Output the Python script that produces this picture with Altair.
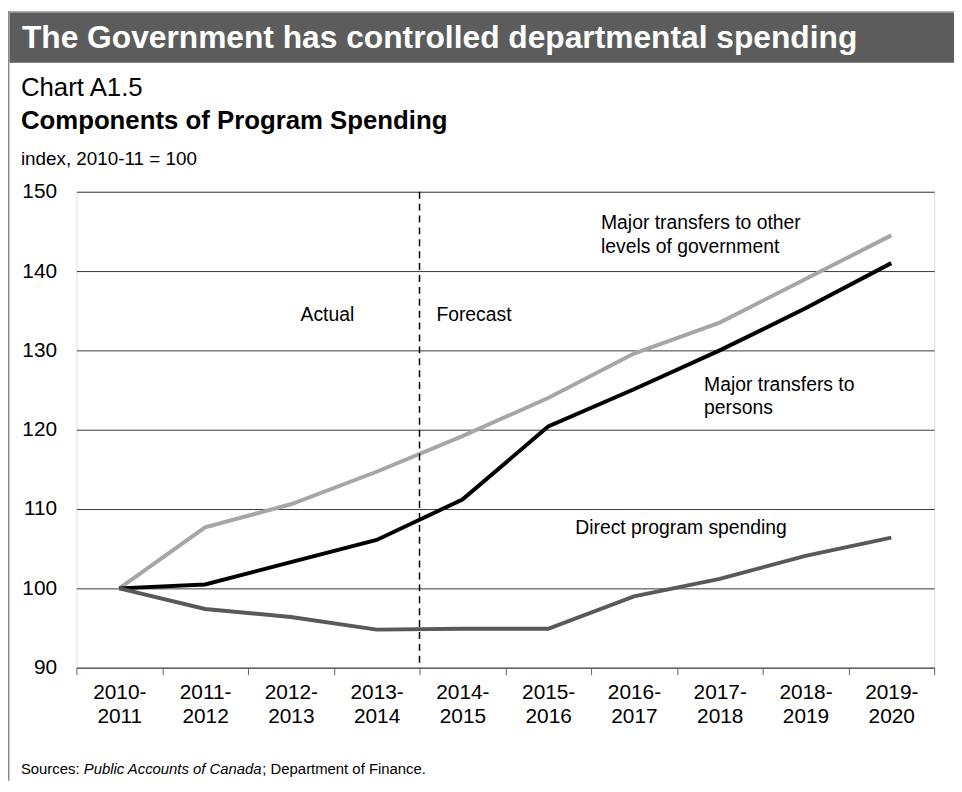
import altair as alt
import pandas as pd

# ---- data ----
periods = ["2010-2011", "2011-2012", "2012-2013", "2013-2014", "2014-2015",
           "2015-2016", "2016-2017", "2017-2018", "2018-2019", "2019-2020"]
transfers_other_levels = [100.0, 107.7, 110.6, 114.7, 119.2, 124.0, 129.6, 133.5, 139.0, 144.5]
transfers_persons = [100.0, 100.5, 103.3, 106.1, 111.2, 120.4, 125.1, 130.0, 135.3, 141.0]
direct_program = [100.0, 97.4, 96.4, 94.8, 94.9, 94.9, 99.0, 101.2, 104.1, 106.4]
series_names = ["Major transfers to other levels of government",
                "Major transfers to persons",
                "Direct program spending"]
series_colors = ["#a6a6a6", "#000000", "#595959"]
forecast_start = "2014-2015"
y_ticks = [90, 100, 110, 120, 130, 140, 150]

FONT = "Liberation Sans"

rows = []
for name, vals in zip(series_names, [transfers_other_levels, transfers_persons, direct_program]):
    for p, v in zip(periods, vals):
        rows.append({"period": p, "value": v, "series": name})
df = pd.DataFrame(rows)

x_enc = alt.X(
    "period:N", sort=periods, bandPosition=0.5,
    scale=alt.Scale(type="band", paddingInner=0, paddingOuter=0),
    axis=alt.Axis(
        title=None, labelAngle=0, labelFontSize=21, labelColor="#000000",
        labelExpr="[slice(datum.label, 0, 5), slice(datum.label, 5)]",
        labelLineHeight=24, labelPadding=7, tickBand="extent", tickSize=7,
        tickColor="#606060", domainColor="#606060", grid=False, labelFont=FONT,
    ),
)
y_enc = alt.Y(
    "value:Q",
    scale=alt.Scale(domain=[90, 150], nice=False, zero=False),
    axis=alt.Axis(
        title=None, values=y_ticks, domain=False, ticks=False, labelPadding=20,
        labelFontSize=21, labelColor="#000000", grid=True, gridColor="#3a3a3a",
        gridWidth=1, labelFont=FONT,
    ),
)

lines = alt.Chart(df).mark_line(strokeWidth=4).encode(
    x=x_enc,
    y=y_enc,
    color=alt.Color("series:N", scale=alt.Scale(domain=series_names, range=series_colors), legend=None),
)

divider = alt.Chart(pd.DataFrame({"period": [forecast_start]})).mark_rule(
    color="#000000", strokeWidth=1.5, strokeDash=[7, 5]
).encode(
    x=alt.X("period:N", sort=periods, bandPosition=0),
    y=alt.value(0),
    y2=alt.value(480),
)

one = pd.DataFrame({"a": [0]})

banner_edge = alt.Chart(one).mark_rect(color="#8c8c8c").encode(
    x=alt.value(-69), x2=alt.value(885), y=alt.value(-182), y2=alt.value(-180.5)
)
banner = alt.Chart(one).mark_rect(color="#5c5c5c").encode(
    x=alt.value(-67.5), x2=alt.value(885), y=alt.value(-180.5), y2=alt.value(-130)
)
left_border = alt.Chart(one).mark_rect(color="#8c8c8c").encode(
    x=alt.value(-69), x2=alt.value(-67.5), y=alt.value(-182), y2=alt.value(594)
)


def label(text, x, y, size, weight="normal", style="normal", color="#000000", datum_y=False):
    d = pd.DataFrame({"t": [text]})
    enc = {"text": "t:N", "x": alt.value(x)}
    if datum_y:
        enc["y"] = alt.Y(datum=y)
    else:
        enc["y"] = alt.value(y)
    return alt.Chart(d).mark_text(
        align="left", baseline="alphabetic" if not datum_y else "middle",
        font=FONT, fontSize=size, fontWeight=weight, fontStyle=style, color=color,
    ).encode(**enc)


texts = [
    label("The Government has controlled departmental spending", -55, -145, 32, weight="bold", color="#ffffff"),
    label("Chart A1.5", -56, -97, 26),
    label("Components of Program Spending", -56, -63, 26, weight="bold"),
    label("index, 2010-11 = 100", -56, -27, 19),
    label("Sources: ", -56, 587, 15),
    label("Public Accounts of Canada", 7.4, 587, 15, style="italic"),
    label("; Department of Finance.", 187.5, 587, 15),
    # annotations (y in data units)
    label("Actual", 226, 134.5, 19.5, datum_y=True),
    label("Forecast", 363, 134.5, 19.5, datum_y=True),
    label("Major transfers to other", 529, 146.0, 19.5, datum_y=True),
    label("levels of government", 529, 143.0, 19.5, datum_y=True),
    label("Major transfers to", 633, 125.6, 19.5, datum_y=True),
    label("persons", 633, 122.75, 19.5, datum_y=True),
    label("Direct program spending", 503, 107.6, 19.5, datum_y=True),
]

chart = alt.layer(
    banner_edge, banner, left_border, lines, divider, *texts
).properties(
    width=865, height=480,
    autosize=alt.AutoSizeParams(type="none"),
    padding={"left": 69, "top": 182, "right": 20, "bottom": 114},
    background="#ffffff",
).configure_view(stroke=None).configure(font=FONT)

chart.save("out.html", embed_options={"renderer": "svg", "actions": False})
